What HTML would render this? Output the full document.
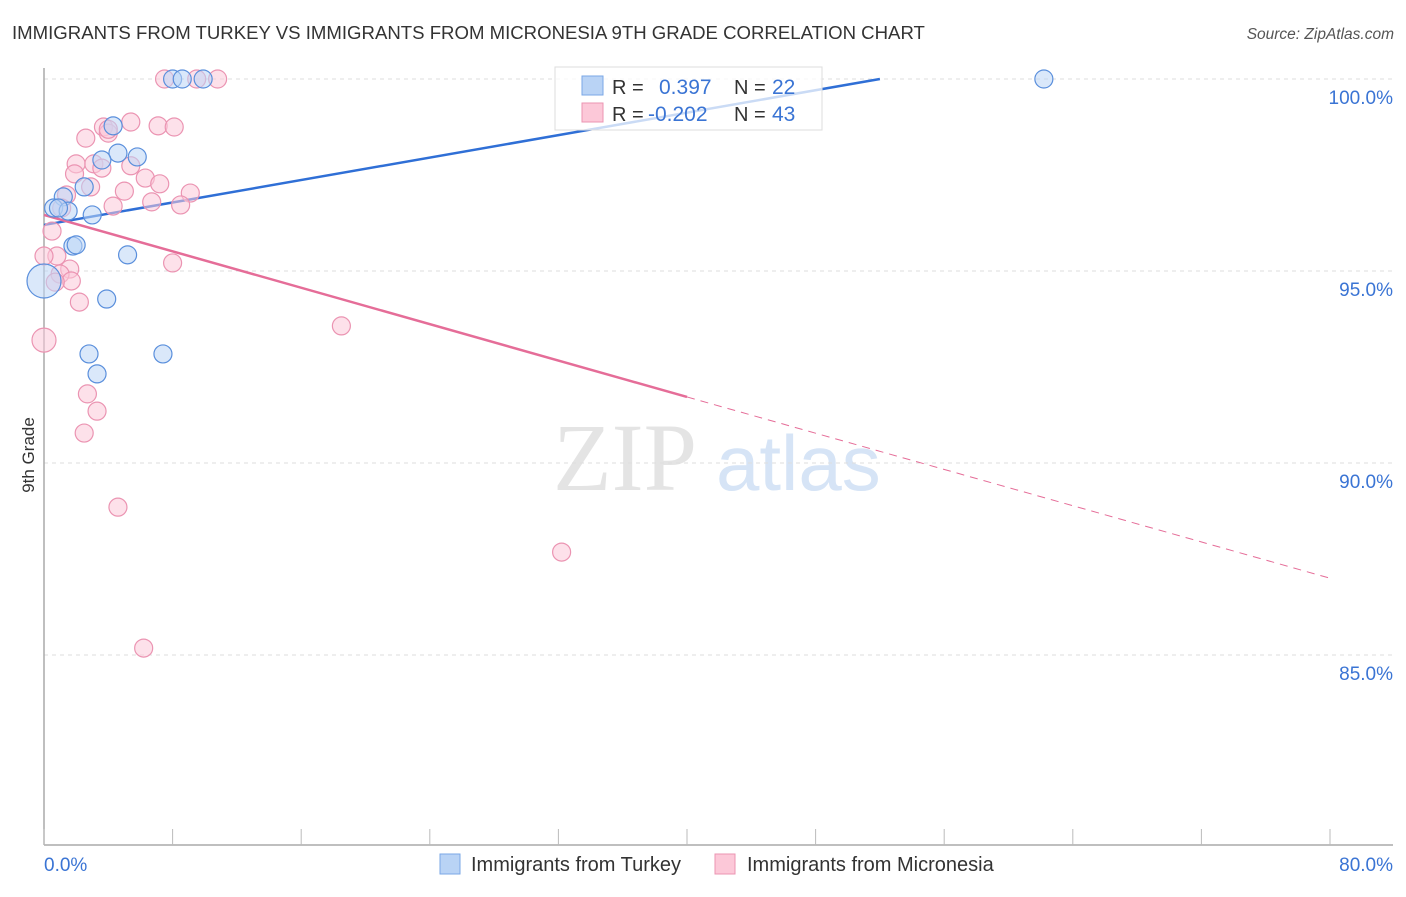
<!DOCTYPE html>
<html><head><meta charset="utf-8">
<style>
html,body{margin:0;padding:0;background:#fff;}
body{width:1406px;height:892px;overflow:hidden;font-family:"Liberation Sans",sans-serif;}
</style></head>
<body>
<svg id="chart" width="1406" height="892" xmlns="http://www.w3.org/2000/svg" style="font-family:'Liberation Sans',sans-serif">
  <text x="12" y="39" font-size="18.6" fill="#333">IMMIGRANTS FROM TURKEY VS IMMIGRANTS FROM MICRONESIA 9TH GRADE CORRELATION CHART</text>
  <text x="1394" y="39" font-size="15.5" fill="#555" text-anchor="end" font-style="italic">Source: ZipAtlas.com</text>
  <g>
    <text x="553" y="490" font-size="96" fill="#e4e4e4" font-family="'Liberation Serif',serif">ZIP</text>
    <text x="716" y="490" font-size="78" fill="#d6e4f6">atlas</text>
  </g>
  <g id="grid"></g>
  <g id="axes"></g>
  <g id="lines"></g>
  <g id="points"></g>
  <text transform="translate(34,455) rotate(-90)" font-size="17" fill="#333" text-anchor="middle">9th Grade</text>
  <g>
    <rect x="555" y="67" width="267" height="63" fill="#fff" fill-opacity="0.75" stroke="#ddd"/>
    <rect x="582" y="76" width="21" height="19" fill="#b9d3f5" stroke="#7aa7e6"/>
    <rect x="582" y="103" width="21" height="19" fill="#fcc8d8" stroke="#eb94b2"/>
    <text x="612" y="94" font-size="20" fill="#333">R =</text>
    <text x="659" y="94" font-size="21" fill="#3a74d4">0.397</text>
    <text x="734" y="94" font-size="20" fill="#333">N =</text>
    <text x="772" y="94" font-size="21" fill="#3a74d4">22</text>
    <text x="612" y="121" font-size="20" fill="#333">R =</text>
    <text x="648" y="121" font-size="21" fill="#3a74d4">-0.202</text>
    <text x="734" y="121" font-size="20" fill="#333">N =</text>
    <text x="772" y="121" font-size="21" fill="#3a74d4">43</text>
  </g>
  <g>
    <rect x="440" y="854" width="20" height="20" fill="#b9d3f5" stroke="#7aa7e6"/>
    <text x="471" y="871" font-size="20" fill="#333">Immigrants from Turkey</text>
    <rect x="715" y="854" width="20" height="20" fill="#fcc8d8" stroke="#eb94b2"/>
    <text x="747" y="871" font-size="20" fill="#333">Immigrants from Micronesia</text>
  </g>
</svg>
<script>
const xTickValues = [0,8,16,24,32,40,48,56,64,72,80];
const yGridValues = [100,95,90,85];
const yTickLabels = ["100.0%","95.0%","90.0%","85.0%"];
const xEndLabels = ["0.0%","80.0%"];
const turkeyX = [8.0,8.6,9.9,62.2,4.3,4.6,5.8,3.6,2.5,1.2,0.6,1.5,0.9,3.0,1.8,2.0,5.2,3.9,2.8,7.4,3.3,0.0];
const turkeyY = [100,100,100,100,98.78,98.07,97.97,97.89,97.19,96.93,96.64,96.56,96.64,96.46,95.65,95.68,95.42,94.27,92.84,92.84,92.32,94.74];
const microX = [7.5,9.5,10.8,2.6,3.7,4.0,5.4,7.1,8.1,2.0,3.1,3.6,5.4,1.9,2.9,5.0,6.3,7.2,9.1,1.4,6.7,8.5,4.3,0.5,0.8,0.0,1.6,1.0,1.7,0.7,2.2,8.0,18.5,0.0,2.7,3.3,2.5,4.6,32.2,6.2,1.1,4.0];
const microY = [100,100,100,98.46,98.75,98.59,98.88,98.78,98.75,97.79,97.79,97.68,97.74,97.53,97.19,97.08,97.42,97.27,97.03,96.98,96.80,96.72,96.69,96.04,95.39,95.39,95.05,94.92,94.74,94.71,94.19,95.21,93.57,93.20,91.80,91.35,90.78,88.85,87.68,85.18,96.64,98.69];
const turkeyTrendX = [0,52];
const turkeyTrendY = [96.2,100];
const microTrendX = [0,40,80];
const microTrendY = [96.46,91.72,87.0];

const NS="http://www.w3.org/2000/svg";
const X0=44,X1=1330,Y100=79,PXPER=38.4;
function xs(v){return X0+(X1-X0)*v/80;}
function ys(v){return Y100+(100-v)*PXPER;}
function mk(tag,attrs,parent){const e=document.createElementNS(NS,tag);for(const k in attrs)e.setAttribute(k,attrs[k]);parent.appendChild(e);return e;}

const grid=document.getElementById('grid');
yGridValues.forEach((v,i)=>{
  const l=mk('line',{x1:44,x2:1393,y1:ys(v),y2:ys(v),stroke:'#dedede','stroke-dasharray':'4,4'},grid);
  
  
  const t=mk('text',{x:1393,y:ys(v)+25,'font-size':19,fill:'#3a74d4','text-anchor':'end'},grid);
  t.textContent=yTickLabels[i];
  
  
});
const axes=document.getElementById('axes');
const ya=mk('line',{x1:44,x2:44,y1:68,y2:845,stroke:'#aaa','stroke-width':1.5},axes);


const xa=mk('line',{x1:44,x2:1393,y1:845,y2:845,stroke:'#aaa','stroke-width':1.5},axes);


xTickValues.forEach(v=>{
  const t=mk('line',{x1:xs(v),x2:xs(v),y1:829,y2:845,stroke:'#bbb'},axes);
  
  
});
const l0=mk('text',{x:44,y:871,'font-size':19,fill:'#3a74d4'},axes);
l0.textContent=xEndLabels[0];


const l1=mk('text',{x:1393,y:871,'font-size':19,fill:'#3a74d4','text-anchor':'end'},axes);
l1.textContent=xEndLabels[1];



const pts=document.getElementById('points');
function dot(x,y,r,fill,stroke,name){
  const c=mk('circle',{cx:xs(x),cy:ys(y),r:r,fill:fill,'fill-opacity':0.55,stroke:stroke,'stroke-width':1.2},pts);
  
  
}
microX.forEach((x,i)=>dot(x,microY[i],(x===0&&microY[i]<94)?12:9,'#fcc8d8','#eb94b2','micronesia-point'));
turkeyX.forEach((x,i)=>dot(x,turkeyY[i],x===0?17:9,'#bcd5f5','#5a8fdc','turkey-point'));

const lines=document.getElementById('lines');
const tl=mk('line',{x1:xs(turkeyTrendX[0]),y1:ys(turkeyTrendY[0]),x2:xs(turkeyTrendX[1]),y2:ys(turkeyTrendY[1]),stroke:'#2f6fd6','stroke-width':2.5},lines);


const ml=mk('line',{x1:xs(microTrendX[0]),y1:ys(microTrendY[0]),x2:xs(microTrendX[1]),y2:ys(microTrendY[1]),stroke:'#e56d98','stroke-width':2.5},lines);


const md=mk('line',{x1:xs(microTrendX[1]),y1:ys(microTrendY[1]),x2:xs(microTrendX[2]),y2:ys(microTrendY[2]),stroke:'#e56d98','stroke-width':1,'stroke-dasharray':'8,6'},lines);


</script>
</body></html>
